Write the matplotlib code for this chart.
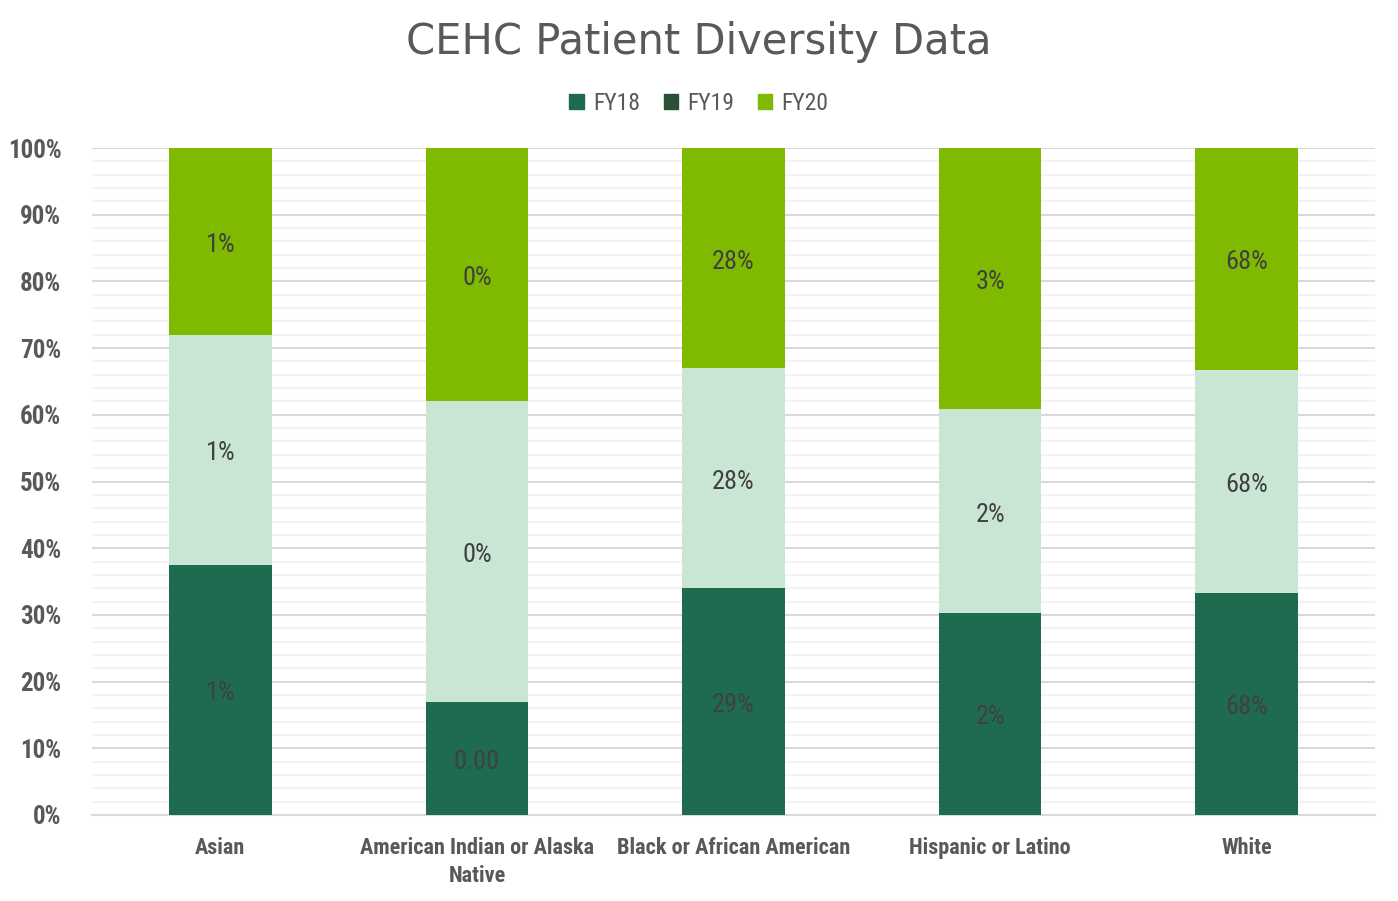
import numpy as np
import matplotlib.pyplot as plt
from matplotlib import font_manager
from matplotlib.patches import Patch
from matplotlib.ticker import MultipleLocator, PercentFormatter

# pick a narrow face if one is installed
fonts = font_manager.fontManager.ttflist
narrow = None
for name in ["Liberation Sans Narrow", "Roboto Condensed", "Open Sans Condensed"]:
    if any(f.name == name for f in fonts):
        narrow = name
        break
stretch = "normal"
if narrow is None:
    if any(f.name == "DejaVu Sans" and "ondensed" in f.fname for f in fonts):
        narrow = "DejaVu Sans"
        stretch = "condensed"
    else:
        narrow = "DejaVu Sans"
plt.rcParams['font.family'] = [narrow, 'DejaVu Sans']
plt.rcParams['font.stretch'] = stretch

# Data (raw shares per fiscal year)
categories = ["Asian", "American Indian or Alaska\nNative", "Black or African American",
              "Hispanic or Latino", "White"]
fy18 = [0.0135, 0.0017, 0.2870, 0.0227, 0.6800]
fy19 = [0.0124, 0.0045, 0.2781, 0.0229, 0.6810]
fy20 = [0.0101, 0.0038, 0.2790, 0.0294, 0.6800]
series = ["FY18", "FY19", "FY20"]
# label formats as shown on the chart
fy18_fmt = ["{:.0%}", "{:.2f}", "{:.0%}", "{:.0%}", "{:.0%}"]
fy19_fmt = ["{:.0%}"] * 5
fy20_fmt = ["{:.0%}"] * 5

bar_colors = ["#1f6b50", "#c9e5d4", "#7fba00"]
legend_colors = ["#1f6b50", "#2a5133", "#7fba00"]

raw = np.array([fy18, fy19, fy20])
share = raw / raw.sum(axis=0) * 100
fmts = [fy18_fmt, fy19_fmt, fy20_fmt]

scale = 1.0 if stretch == "condensed" or narrow != "DejaVu Sans" else 0.82

fig = plt.figure(figsize=(13.98, 9.01), dpi=100)
ax = fig.add_axes([92 / 1398, 1 - 815 / 901, (1375 - 92) / 1398, (815 - 148) / 901])

x = np.arange(len(categories))
bottom = np.zeros(len(categories))
for i in range(3):
    ax.bar(x, share[i], 0.4, bottom=bottom, color=bar_colors[i], zorder=3)
    for j in range(len(categories)):
        ax.text(x[j], bottom[j] + share[i][j] / 2 - 0.5, fmts[i][j].format(raw[i][j]),
                ha="center", va="center", fontsize=19 * scale, color="#404040",
                fontweight="normal", zorder=4)
    bottom += share[i]

ax.set_xlim(-0.5, len(categories) - 0.5)
ax.set_ylim(0, 100)
ax.yaxis.set_major_locator(MultipleLocator(10))
ax.yaxis.set_minor_locator(MultipleLocator(2))
ax.yaxis.set_major_formatter(PercentFormatter(decimals=0))
ax.grid(True, which="major", axis="y", color="#d9d9d9", linewidth=1.5, zorder=0)
ax.grid(True, which="minor", axis="y", color="#f2f2f2", linewidth=1.5, zorder=0)
ax.set_xticks(x)
ax.set_xticklabels(categories, fontsize=16 * scale, color="#595959", fontweight="bold",
                   linespacing=1.35)
for lab in ax.get_yticklabels():
    lab.set_fontsize(18 * scale)
    lab.set_color("#595959")
    lab.set_fontweight("bold")
ax.tick_params(axis="both", which="both", length=0)
ax.tick_params(axis="x", pad=16)
ax.tick_params(axis="y", pad=22)
for s in ["top", "right", "left"]:
    ax.spines[s].set_visible(False)
ax.spines["bottom"].set_color("#d9d9d9")
ax.spines["bottom"].set_linewidth(1.5)

fig.text(0.5, 1 - 42 / 901, "CEHC Patient Diversity Data", ha="center", va="center",
         fontsize=30, color="#595959", family="DejaVu Sans", stretch="normal")
handles = [Patch(color=c, label=s) for c, s in zip(legend_colors, series)]
fig.legend(handles=handles, loc="center", bbox_to_anchor=(0.5, 1 - 103 / 901), ncol=3,
           frameon=False, handlelength=0.6, handleheight=0.6,
           columnspacing=1.0, handletextpad=0.4, labelcolor="#595959",
           prop={"weight": "normal", "size": 17 * scale})

plt.savefig("out.png")
